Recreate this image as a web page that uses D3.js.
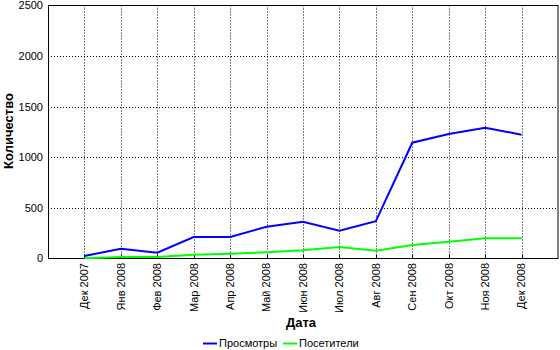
<!DOCTYPE html>
<html>
<head>
<meta charset="utf-8">
<script src="https://cdn.jsdelivr.net/npm/d3@7"></script>
<style>
  html, body { margin: 0; padding: 0; background: #fff; }
  svg { display: block; font-family: "Liberation Sans", Arial, sans-serif; }
</style>
</head>
<body>
<svg id="chart" width="560" height="350"></svg>
<script>
const months = ["Дек 2007","Янв 2008","Фев 2008","Мар 2008","Апр 2008","Май 2008","Июн 2008","Июл 2008","Авг 2008","Сен 2008","Окт 2008","Ноя 2008","Дек 2008"];
const views = [25, 97, 57, 212, 212, 314, 364, 275, 368, 1144, 1230, 1293, 1223];
const visitors = [2, 15, 15, 38, 47, 61, 81, 114, 77, 133, 166, 199, 199];
const yTicks = [0, 500, 1000, 1500, 2000, 2500];
const seriesNames = ["Просмотры", "Посетители"];
const seriesColors = ["#0000ff", "#00ff00"];

const svg = d3.select("#chart");
const pL = 48, pR = 558, pT = 5.5, pB = 258.5;

const x = d3.scalePoint().domain(months).range([pL, pR]).padding(1);
const y = d3.scaleLinear().domain([0, 2500]).range([pB, pT]);

// grid
const g = svg.append("g");
g.selectAll(".vg").data(months).enter().append("line")
  .attr("x1", d => Math.round(x(d)) + 0.5).attr("x2", d => Math.round(x(d)) + 0.5)
  .attr("y1", pT).attr("y2", pB)
  .attr("stroke", "#000").attr("stroke-width", 1).attr("stroke-dasharray", "1,2");
g.selectAll(".hg").data(yTicks.slice(1, -1)).enter().append("line")
  .attr("x1", pL).attr("x2", pR)
  .attr("y1", d => Math.round(y(d)) + 0.5).attr("y2", d => Math.round(y(d)) + 0.5)
  .attr("stroke", "#000").attr("stroke-width", 1).attr("stroke-dasharray", "1,2");
// small inner ticks at bottom
g.selectAll(".tk").data(months).enter().append("line")
  .attr("x1", d => Math.round(x(d)) + 0.5).attr("x2", d => Math.round(x(d)) + 0.5)
  .attr("y1", pB - 4).attr("y2", pB)
  .attr("stroke", "#000").attr("stroke-width", 1);

// frame
svg.append("rect").attr("x", pL + 0.5).attr("y", pT).attr("width", pR - pL - 0.5).attr("height", pB - pT)
  .attr("fill", "none").attr("stroke", "#000").attr("stroke-width", 1);

// y labels
svg.selectAll(".yl").data(yTicks).enter().append("text")
  .attr("x", 43).attr("y", d => y(d)).attr("dy", "0.35em")
  .attr("text-anchor", "end").attr("font-size", 11).text(d => d);

// x labels
svg.selectAll(".xl").data(months).enter().append("text")
  .attr("transform", d => `translate(${x(d)},263) rotate(-90)`)
  .attr("dy", "0.35em").attr("text-anchor", "end").attr("font-size", 11).text(d => d);

// series
const line = d3.line().x((d, i) => x(months[i])).y(d => y(d));
[views, visitors].forEach((s, k) => {
  svg.append("path").datum(s).attr("d", line)
    .attr("fill", "none").attr("stroke", seriesColors[k]).attr("stroke-width", 2);
});

// axis titles
svg.append("text").attr("transform", "translate(13,131) rotate(-90)")
  .attr("text-anchor", "middle").attr("font-size", 13).attr("font-weight", "bold").text("Количество");
svg.append("text").attr("x", 301).attr("y", 327)
  .attr("text-anchor", "middle").attr("font-size", 13).attr("font-weight", "bold").text("Дата");

// legend
const legX = [203, 283];
seriesNames.forEach((n, k) => {
  svg.append("line").attr("x1", legX[k]).attr("x2", legX[k] + 14).attr("y1", 343.5).attr("y2", 343.5)
    .attr("stroke", seriesColors[k]).attr("stroke-width", 2);
  svg.append("text").attr("x", legX[k] + 16).attr("y", 343).attr("dy", "0.35em")
    .attr("font-size", 11).text(n);
});
</script>
</body>
</html>
